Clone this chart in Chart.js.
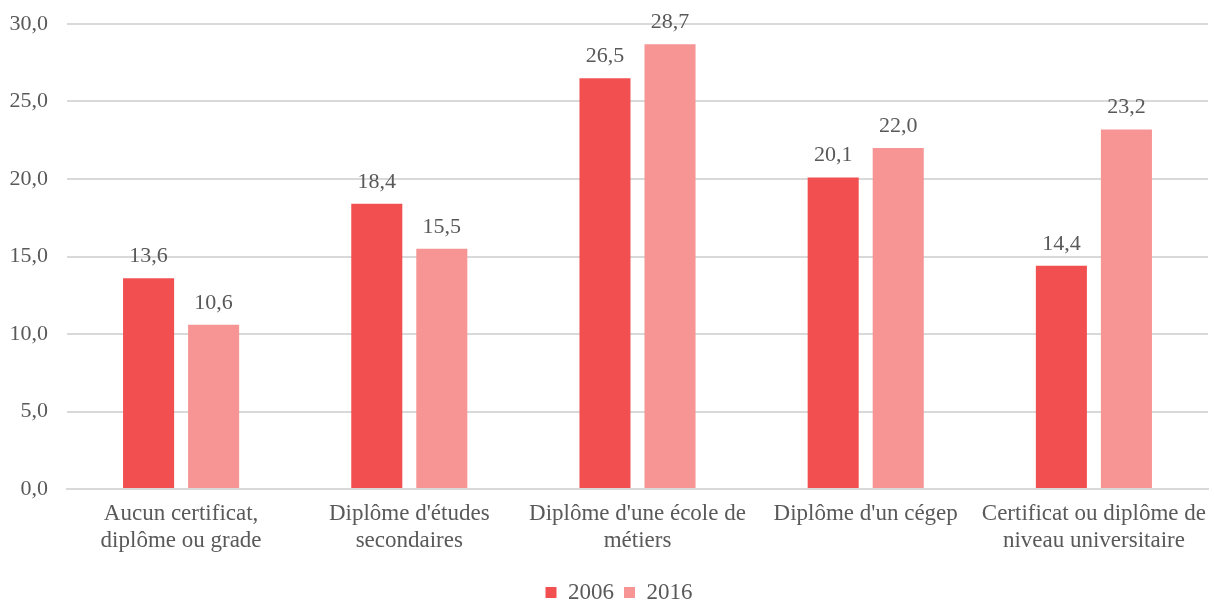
<!DOCTYPE html>
<html>
<head>
<meta charset="utf-8">
<script src="https://cdn.jsdelivr.net/npm/chart.js@4"></script>
<style>
  html, body { margin: 0; padding: 0; background: #fff; }
  #wrap { width: 1214px; height: 603px; }
</style>
</head>
<body>
<div id="wrap"><canvas id="chart"></canvas></div>
<script>
const categories = [
    ['Aucun certificat,', 'diplôme ou grade'],
    ["Diplôme d'études", 'secondaires'],
    ["Diplôme d'une école de", 'métiers'],
    ["Diplôme d'un cégep"],
    ['Certificat ou diplôme de', 'niveau universitaire']
];
const series2006 = [13.6, 18.4, 26.5, 20.1, 14.4];
const series2016 = [10.6, 15.5, 28.7, 22.0, 23.2];
const yTicks = [0, 5, 10, 15, 20, 25, 30];

const fontFamily = "'Liberation Serif', 'DejaVu Serif', serif";
const textColor = '#595959';

const fmt = (v) => v.toFixed(1).replace('.', ',');

// value labels above each bar
const valueLabels = {
    id: 'valueLabels',
    afterDatasetsDraw(chart) {
        const ctx = chart.ctx;
        ctx.save();
        ctx.fillStyle = textColor;
        ctx.font = '22px ' + fontFamily;
        ctx.textAlign = 'center';
        ctx.textBaseline = 'alphabetic';
        chart.data.datasets.forEach((ds, i) => {
            const meta = chart.getDatasetMeta(i);
            meta.data.forEach((bar, j) => {
                ctx.fillText(fmt(ds.data[j]), bar.x, bar.y - 16);
            });
        });
        ctx.restore();
    }
};

// legend sits a little right of centre in the original
const legendNudge = {
    id: 'legendNudge',
    afterLayout(chart) {
        if (chart.legend) {
            chart.legend.left += 15;
            chart.legend.right += 15;
        }
    }
};

new Chart(document.getElementById('chart'), {
    type: 'bar',
    data: {
        labels: categories,
        datasets: [
            {
                label: '2006',
                data: series2006,
                backgroundColor: '#F25050',
                barPercentage: 0.785,
                categoryPercentage: 0.57
            },
            {
                label: '2016',
                data: series2016,
                backgroundColor: '#F79494',
                barPercentage: 0.785,
                categoryPercentage: 0.57
            }
        ]
    },
    options: {
        responsive: true,
        maintainAspectRatio: false,
        animation: false,
        layout: {
            padding: { top: 24, right: 6, left: 0, bottom: -11 }
        },
        scales: {
            x: {
                grid: { display: false, drawTicks: false },
                border: { color: '#d9d9d9', width: 2 },
                ticks: {
                    color: textColor,
                    font: { size: 23, family: fontFamily, lineHeight: 1.2 },
                    maxRotation: 0,
                    autoSkip: false,
                    padding: 11
                },
                afterFit(axis) {
                    axis.height = 82;
                    axis.paddingLeft = 0;
                    axis.paddingRight = 0;
                }
            },
            y: {
                min: 0,
                max: 30,
                afterBuildTicks(axis) {
                    axis.ticks = yTicks.map(v => ({ value: v }));
                },
                afterFit(axis) {
                    axis.width = 67;
                    // keep label overflow from pushing the plot area down
                    axis.paddingTop = 0;
                    axis.paddingBottom = 0;
                },
                grid: { color: '#d9d9d9', lineWidth: 2, drawTicks: false },
                border: { display: false },
                ticks: {
                    color: textColor,
                    font: { size: 22, family: fontFamily },
                    padding: 19,
                    callback: (v) => fmt(v)
                }
            }
        },
        plugins: {
            legend: {
                position: 'bottom',
                labels: {
                    color: textColor,
                    font: { size: 23, family: fontFamily },
                    boxWidth: 11,
                    boxHeight: 11,
                    padding: 10
                }
            },
            tooltip: { enabled: false }
        }
    },
    plugins: [valueLabels, legendNudge]
});
</script>
</body>
</html>
